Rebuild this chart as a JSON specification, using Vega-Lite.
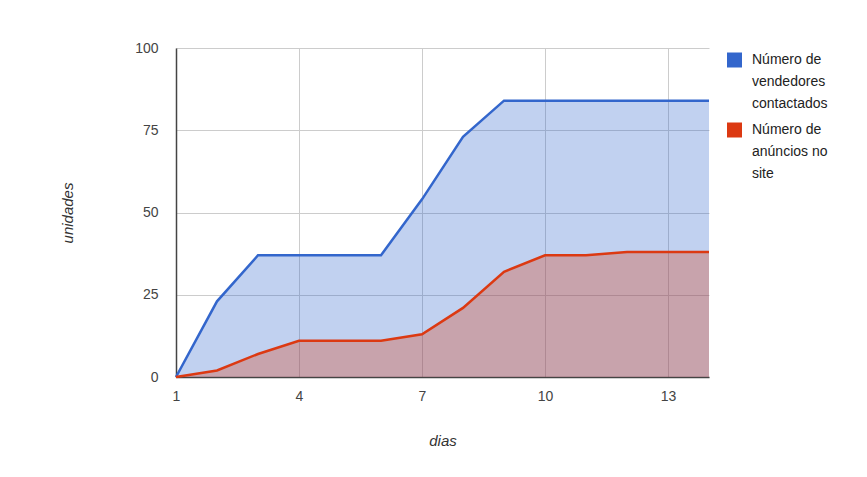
{
  "$schema": "https://vega.github.io/schema/vega-lite/v6.json",
  "width": 533,
  "height": 329,
  "autosize": {"type": "none"},
  "padding": {"left": 176, "top": 48, "right": 158, "bottom": 100},
  "background": "white",
  "config": {
    "font": "Liberation Sans",
    "view": {"stroke": null},
    "axis": {"labelFont": "Liberation Sans", "titleFont": "Liberation Sans"},
    "style": {"guide-label": {"lineHeight": 22}}
  },
  "data": {
    "values": [
      {"dia": 1, "valor": 0, "serie": "Número de vendedores contactados"},
      {"dia": 2, "valor": 23, "serie": "Número de vendedores contactados"},
      {"dia": 3, "valor": 37, "serie": "Número de vendedores contactados"},
      {"dia": 4, "valor": 37, "serie": "Número de vendedores contactados"},
      {"dia": 5, "valor": 37, "serie": "Número de vendedores contactados"},
      {"dia": 6, "valor": 37, "serie": "Número de vendedores contactados"},
      {"dia": 7, "valor": 54, "serie": "Número de vendedores contactados"},
      {"dia": 8, "valor": 73, "serie": "Número de vendedores contactados"},
      {"dia": 9, "valor": 84, "serie": "Número de vendedores contactados"},
      {"dia": 10, "valor": 84, "serie": "Número de vendedores contactados"},
      {"dia": 11, "valor": 84, "serie": "Número de vendedores contactados"},
      {"dia": 12, "valor": 84, "serie": "Número de vendedores contactados"},
      {"dia": 13, "valor": 84, "serie": "Número de vendedores contactados"},
      {"dia": 14, "valor": 84, "serie": "Número de vendedores contactados"},
      {"dia": 1, "valor": 0, "serie": "Número de anúncios no site"},
      {"dia": 2, "valor": 2, "serie": "Número de anúncios no site"},
      {"dia": 3, "valor": 7, "serie": "Número de anúncios no site"},
      {"dia": 4, "valor": 11, "serie": "Número de anúncios no site"},
      {"dia": 5, "valor": 11, "serie": "Número de anúncios no site"},
      {"dia": 6, "valor": 11, "serie": "Número de anúncios no site"},
      {"dia": 7, "valor": 13, "serie": "Número de anúncios no site"},
      {"dia": 8, "valor": 21, "serie": "Número de anúncios no site"},
      {"dia": 9, "valor": 32, "serie": "Número de anúncios no site"},
      {"dia": 10, "valor": 37, "serie": "Número de anúncios no site"},
      {"dia": 11, "valor": 37, "serie": "Número de anúncios no site"},
      {"dia": 12, "valor": 38, "serie": "Número de anúncios no site"},
      {"dia": 13, "valor": 38, "serie": "Número de anúncios no site"},
      {"dia": 14, "valor": 38, "serie": "Número de anúncios no site"}
    ]
  },
  "encoding": {
    "x": {
      "field": "dia", "type": "quantitative",
      "scale": {"domain": [1, 14], "nice": false, "zero": false},
      "axis": {
        "title": "dias", "values": [1, 4, 7, 10, 13], "format": "d", "labelFlush": false,
        "grid": true, "gridColor": "#cccccc", "domainColor": "#444444", "domainWidth": 1.5,
        "ticks": false, "labelPadding": 12, "labelFontSize": 14, "labelColor": "#444444",
        "titleFontStyle": "italic", "titleFontWeight": "normal", "titleFontSize": 15,
        "titleColor": "#333333", "titlePadding": 30
      }
    },
    "y": {
      "field": "valor", "type": "quantitative", "stack": null,
      "scale": {"domain": [0, 100], "nice": false},
      "axis": {
        "title": "unidades", "values": [0, 25, 50, 75, 100], "labelFlush": false,
        "grid": true, "gridColor": "#cccccc", "domainColor": "#444444", "domainWidth": 1.5,
        "ticks": false, "labelPadding": 18, "labelFontSize": 14, "labelColor": "#444444",
        "titleFontStyle": "italic", "titleFontWeight": "normal", "titleFontSize": 15,
        "titleColor": "#333333", "titlePadding": 59
      }
    },
    "color": {
      "field": "serie", "type": "nominal",
      "scale": {
        "domain": ["Número de vendedores contactados", "Número de anúncios no site"],
        "range": ["#3366cc", "#dc3912"]
      },
      "sort": ["Número de vendedores contactados", "Número de anúncios no site"],
      "legend": {
        "title": null, "orient": "none", "legendX": 551, "legendY": -3,
        "symbolType": "M-1,0H1V2H-1Z", "symbolSize": 225, "symbolOpacity": 1,
        "symbolStrokeWidth": 0, "labelFontSize": 14, "labelColor": "#222222",
        "labelBaseline": "top", "labelOffset": 10, "rowPadding": 4,
        "labelExpr": "datum.label == 'Número de vendedores contactados' ? ['Número de', 'vendedores', 'contactados'] : ['Número de', 'anúncios no', 'site']",
        "labelLimit": 200
      }
    },
    "order": {"field": "serie", "sort": "descending"}
  },
  "layer": [
    {"mark": {"type": "area", "opacity": 0.3}},
    {"mark": {"type": "line", "strokeWidth": 2.5}}
  ]
}
